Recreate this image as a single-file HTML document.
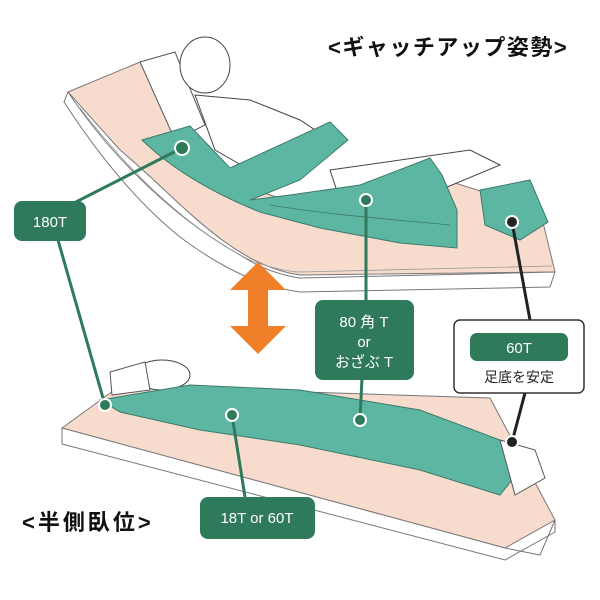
<!DOCTYPE html>
<html><head><meta charset="utf-8"><style>
html,body{margin:0;padding:0;background:#fff;width:600px;height:600px;overflow:hidden}
text{font-family:"Liberation Sans","Noto Sans CJK JP",sans-serif}
</style></head><body>
<svg width="600" height="600" viewBox="0 0 600 600" xmlns="http://www.w3.org/2000/svg">
<!-- upper mattress -->
<path d="M68,92 L140,62 C170,120 210,185 290,200 L430,175 L540,210 L555,272 L300,275 C230,265 180,200 120,150 Z" fill="#f7dccd" stroke="#777" stroke-width="1"/>
<path d="M68,92 C100,140 160,210 240,255 C260,268 280,275 300,278 L555,272 L550,287 L300,292 C260,287 220,267 180,237 C130,197 90,142 64,102 Z" fill="#fff" stroke="#777" stroke-width="1"/>
<path d="M80,108 C120,160 180,225 250,260 C270,268 290,272 300,272 L552,266" fill="none" stroke="#999" stroke-width="0.8"/>
<!-- pillow and person upper -->
<path d="M140,62 L175,52 L205,125 L175,140 Z" fill="#fff" stroke="#555"/>
<ellipse cx="205" cy="65" rx="25" ry="28" fill="#fff" stroke="#444"/>
<path d="M195,95 L250,100 L300,120 L330,140 L250,170 L215,150 Z" fill="#fff" stroke="#444"/>
<path d="M330,170 L470,150 L500,165 L440,190 L340,200 Z" fill="#fff" stroke="#444"/>
<!-- green cushion upper -->
<path d="M142,140 L190,126 L230,168 L330,122 L348,140 L300,180 L250,200 L290,195 L360,185 L430,158 L442,175 L457,210 L457,248 L400,243 L320,228 L260,212 C210,192 170,167 142,140 Z" fill="#5db6a2" stroke="#3d7a6a" stroke-width="1"/>
<path d="M270,205 C330,215 400,220 450,225" fill="none" stroke="#3d7a6a" stroke-width="0.8"/>
<path d="M480,190 L530,180 L548,222 L520,240 L485,225 Z" fill="#5db6a2" stroke="#3d7a6a"/>
<!-- lower mattress -->
<path d="M62,428 L120,386 L490,398 L555,520 L505,548 Z" fill="#f7dccd" stroke="#777"/>
<path d="M62,428 L505,548 L540,555 L555,520 L555,532 L505,560 L62,444 Z" fill="#fff" stroke="#777"/>
<!-- lower person & cushion -->
<ellipse cx="162" cy="375" rx="28" ry="15" fill="#fff" stroke="#444"/>
<path d="M110,372 L145,362 L150,390 L112,395 Z" fill="#fff" stroke="#555"/>
<path d="M100,400 L190,385 L300,390 L420,410 L500,440 L520,470 L500,495 L420,470 L300,445 L200,430 L120,412 Z" fill="#5db6a2" stroke="#3d7a6a"/>
<path d="M500,440 L535,450 L545,478 L515,495 Z" fill="#fff" stroke="#555"/>
<!-- orange arrow -->
<polygon points="258,262 286,290 268,290 268,326 286,326 258,354 230,326 248,326 248,290 230,290" fill="#f07f2a"/>
<!-- connectors -->
<line x1="70" y1="205" x2="182" y2="148" stroke="#2e7a5a" stroke-width="3"/>
<circle cx="182" cy="148" r="7" fill="#2e7a5a" stroke="#fff" stroke-width="2"/>
<line x1="58" y1="240" x2="105" y2="405" stroke="#2e7a5a" stroke-width="3"/>
<circle cx="105" cy="405" r="6" fill="#2e7a5a" stroke="#fff" stroke-width="2"/>
<line x1="366" y1="200" x2="366" y2="300" stroke="#2e7a5a" stroke-width="3"/>
<circle cx="366" cy="200" r="6" fill="#2e7a5a" stroke="#fff" stroke-width="2"/>
<line x1="362" y1="378" x2="360" y2="420" stroke="#2e7a5a" stroke-width="3"/>
<circle cx="360" cy="420" r="6" fill="#2e7a5a" stroke="#fff" stroke-width="2"/>
<line x1="232" y1="415" x2="245" y2="497" stroke="#2e7a5a" stroke-width="3"/>
<circle cx="232" cy="415" r="6" fill="#2e7a5a" stroke="#fff" stroke-width="2"/>
<line x1="512" y1="222" x2="530" y2="320" stroke="#222" stroke-width="3"/>
<circle cx="512" cy="222" r="6" fill="#222" stroke="#fff" stroke-width="2"/>
<line x1="525" y1="393" x2="512" y2="442" stroke="#222" stroke-width="3"/>
<circle cx="512" cy="442" r="6" fill="#222" stroke="#fff" stroke-width="2"/>
<!-- labels -->
<rect x="14" y="201" width="72" height="40" rx="8" fill="#2e7a5a"/>
<text x="50" y="227" fill="#fff" font-size="15" text-anchor="middle">180T</text>
<rect x="315" y="300" width="99" height="80" rx="8" fill="#2e7a5a"/>
<text x="364" y="327" fill="#fff" font-size="15" text-anchor="middle">80 角 T</text>
<text x="364" y="347" fill="#fff" font-size="15" text-anchor="middle">or</text>
<text x="364" y="367" fill="#fff" font-size="15" text-anchor="middle">おざぶ T</text>
<rect x="454" y="320" width="130" height="73" rx="6" fill="#fff" stroke="#333" stroke-width="1.5"/>
<rect x="470" y="333" width="98" height="28" rx="7" fill="#2e7a5a"/>
<text x="519" y="353" fill="#fff" font-size="15" text-anchor="middle">60T</text>
<text x="519" y="382" fill="#222" font-size="14" text-anchor="middle">足底を安定</text>
<rect x="200" y="497" width="115" height="42" rx="8" fill="#2e7a5a"/>
<text x="257" y="523" fill="#fff" font-size="15" text-anchor="middle">18T or 60T</text>
<text x="328" y="55" fill="#111" font-size="22" font-weight="bold" letter-spacing="1.5">&lt;ギャッチアップ姿勢&gt;</text>
<text x="22" y="530" fill="#111" font-size="22" font-weight="bold" letter-spacing="3">&lt;半側臥位&gt;</text>
</svg>
</body></html>
